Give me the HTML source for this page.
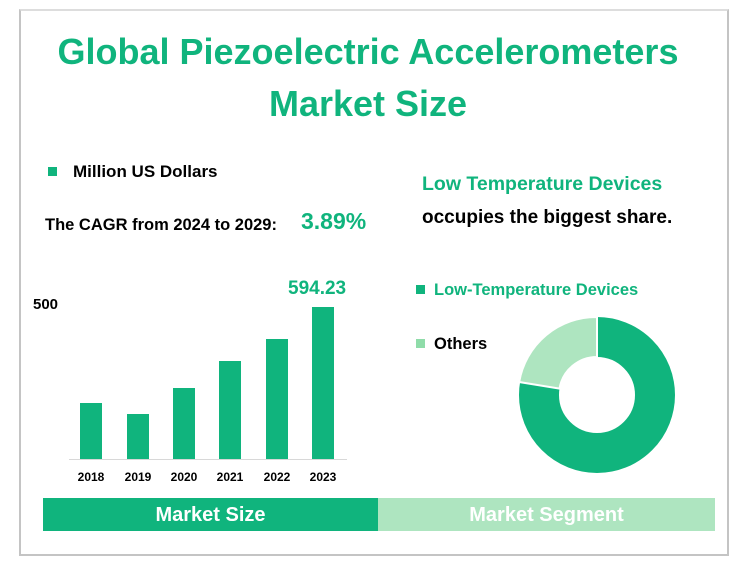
<!DOCTYPE html>
<html><head><style>
body{margin:0;width:736px;height:569px;background:#fff;font-family:"Liberation Sans",sans-serif;position:relative;overflow:hidden}
.a{position:absolute;white-space:nowrap}
</style></head><body>
<div class="a" style="left:19px;top:9px;width:706px;height:543px;border:2px solid #c4c4c4;border-top-color:#ddd"></div>
<div class="a" style="left:0;width:736px;top:26px;text-align:center;color:#10b47d;font-weight:bold;font-size:36px;line-height:52px">Global Piezoelectric Accelerometers<br>Market Size</div>
<div class="a" style="left:48px;top:167px;width:9px;height:9px;background:#10b47d"></div>
<div class="a" style="left:73px;top:162px;font-size:17px;font-weight:bold">Million US Dollars</div>
<div class="a" style="left:45px;top:216px;font-size:16.5px;font-weight:bold">The CAGR from 2024 to 2029:</div>
<div class="a" style="left:301px;top:208px;font-size:23px;font-weight:bold;color:#10b47d">3.89%</div>
<div class="a" style="left:422px;top:173px;font-size:19.5px;font-weight:bold;color:#10b47d">Low Temperature Devices</div>
<div class="a" style="left:422px;top:207px;font-size:19px;font-weight:bold">occupies the biggest share.</div>
<div class="a" style="left:33px;top:296px;font-size:15px;font-weight:bold">500</div>
<div class="a" style="left:288px;top:278px;font-size:19px;font-weight:bold;color:#10b47d">594.23</div>
<svg class="a" style="left:0;top:0" width="736" height="569">
<g fill="#10b47d">
<rect x="80" y="403" width="22" height="56"/><rect x="127" y="414" width="22" height="45"/>
<rect x="173" y="388" width="22" height="71"/><rect x="219" y="361" width="22" height="98"/>
<rect x="266" y="339" width="22" height="120"/><rect x="312" y="307" width="22" height="152"/>
</g>
<line x1="69" y1="459.5" x2="347" y2="459.5" stroke="#d8d8d8"/>
<g font-size="12" font-weight="bold" text-anchor="middle" font-family="Liberation Sans">
<text x="91" y="481">2018</text><text x="138" y="481">2019</text><text x="184" y="481">2020</text><text x="230" y="481">2021</text><text x="277" y="481">2022</text><text x="323" y="481">2023</text></g>
<circle cx="597" cy="395" r="58" fill="none" stroke="#10b47d" stroke-width="40"/>
<path d="M597 317 A78 78 0 0 0 519.2 382 L559.5 388.6 A38 38 0 0 1 597 357 Z" fill="#aee5c0" stroke="#fff" stroke-width="2"/>
<rect x="43" y="498" width="335" height="33" fill="#10b47d"/>
<rect x="378" y="498" width="337" height="33" fill="#aee5c0"/>
<rect x="416" y="285" width="9" height="9" fill="#10b47d"/>
<rect x="416" y="339" width="9" height="9" fill="#8fdca9"/>
</svg>
<div class="a" style="left:434px;top:281px;font-size:16.5px;font-weight:bold;color:#10b47d">Low-Temperature Devices</div>
<div class="a" style="left:434px;top:335px;font-size:16.5px;font-weight:bold">Others</div>
<div class="a" style="left:43px;width:335px;top:504px;text-align:center;color:#fff;font-size:20px;font-weight:bold">Market Size</div>
<div class="a" style="left:378px;width:337px;top:504px;text-align:center;color:#fff;font-size:20px;font-weight:bold">Market Segment</div>
</body></html>
